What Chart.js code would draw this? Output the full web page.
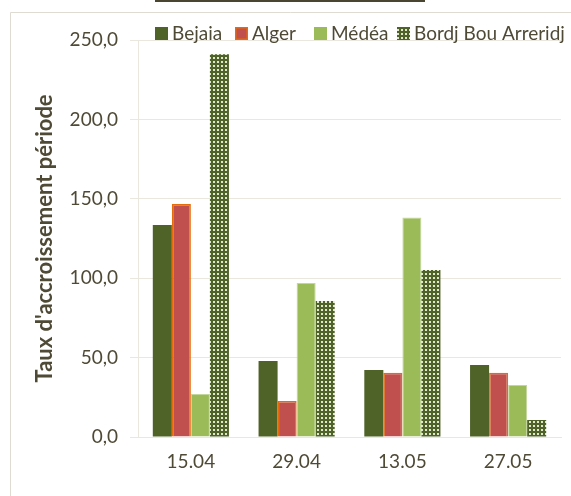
<!DOCTYPE html>
<html>
<head>
<meta charset="utf-8">
<script src="https://cdn.jsdelivr.net/npm/chart.js@4"></script>
<style>
  html, body { margin: 0; padding: 0; background: #fff; overflow: hidden; }
  #wrap { position: relative; width: 571px; height: 496px; }
</style>
</head>
<body>
<div id="wrap"><canvas id="myChart"></canvas></div>
<script>
// data
const dates = ['15.04', '29.04', '13.05', '27.05'];
const bejaia = [133.5, 47.9, 42.2, 45.3];
const alger = [146.7, 22.7, 40.4, 40.4];
const medea = [27.0, 97.0, 138.3, 32.7];
const bordj = [241.0, 85.6, 105.2, 10.7];
const yTicks = [0, 50, 100, 150, 200, 250];

const textColor = '#4f4a36';
const gridColor = '#e9e7de';
const legendX = [155, 235, 314, 397];

// dotted pattern for Bordj Bou Arreridj
function makePattern() {
    const c = document.createElement('canvas');
    c.width = 4;
    c.height = 4;
    const p = c.getContext('2d');
    p.fillStyle = '#4f6228';
    p.fillRect(0, 0, 4, 4);
    p.fillStyle = '#dfe8cc';
    p.fillRect(1, 1, 2, 2);
    return p.createPattern(c, 'repeat');
}
const ctx = document.getElementById('myChart');
const dots = makePattern();

// frame + custom legend
const decor = {
    id: 'decor',
    beforeDraw(chart) {
        const g = chart.ctx;
        g.save();
        g.fillStyle = '#4a4530';
        g.fillRect(155, 0, 270, 2);
        g.strokeStyle = '#dedbd0';
        g.lineWidth = 1;
        g.beginPath();
        g.moveTo(10.5, 496);
        g.lineTo(10.5, 12.5);
        g.lineTo(571, 12.5);
        g.stroke();
        g.restore();
    },
    afterDraw(chart) {
        const g = chart.ctx;
        g.save();
        g.font = '19px Lato';
        g.textBaseline = 'middle';
        const y = 33;
        chart.data.datasets.forEach((ds, i) => {
            const x = legendX[i];
            g.fillStyle = ds.backgroundColor;
            g.fillRect(x, y - 6, 13, 13);
            if (ds.label === 'Alger') {
                g.strokeStyle = ds.borderColor;
                g.lineWidth = 1.5;
                g.strokeRect(x + 0.75, y - 5.25, 11.5, 11.5);
            }
            g.fillStyle = textColor;
            g.fillText(ds.label, x + 17, y + 1);
        });
        g.restore();
    }
};

new Chart(ctx, {
    type: 'bar',
    data: {
        labels: dates,
        datasets: [
            { label: 'Bejaia', data: bejaia, backgroundColor: '#4f6228', borderWidth: 0 },
            { label: 'Alger', data: alger, backgroundColor: '#c0504d', borderColor: '#e46c0a', borderWidth: 1.5 },
            { label: 'Médéa', data: medea, backgroundColor: '#9bbb59', borderColor: '#c3d69b', borderWidth: 1 },
            { label: 'Bordj Bou Arreridj', data: bordj, backgroundColor: dots, borderWidth: 0 }
        ]
    },
    options: {
        responsive: true,
        maintainAspectRatio: false,
        animation: false,
        layout: { padding: { top: 40, right: 10, left: 0, bottom: 0 } },
        categoryPercentage: 0.72,
        barPercentage: 1,
        plugins: {
            legend: { display: false },
            tooltip: { enabled: false }
        },
        scales: {
            x: {
                grid: { display: false, drawTicks: false },
                border: { color: gridColor },
                ticks: { color: textColor, font: { family: 'Lato', size: 19 }, padding: 13 },
                afterFit: s => { s.height = 59; }
            },
            y: {
                min: 0,
                max: 250,
                afterBuildTicks: s => { s.ticks = yTicks.map(v => ({ value: v })); },
                grid: { color: gridColor, tickLength: 8, tickColor: gridColor },
                border: { display: true, color: gridColor },
                ticks: {
                    color: textColor,
                    font: { family: 'Lato', size: 19 },
                    padding: 12,
                    callback: v => v.toFixed(1).replace('.', ',')
                },
                title: {
                    display: true,
                    text: "Taux d'accroissement période",
                    color: textColor,
                    font: { family: 'Lato', size: 22, weight: 'bold' },
                    padding: { top: 32, bottom: 0 }
                },
                afterFit: s => { s.width = 138; }
            }
        }
    },
    plugins: [decor]
});
</script>
</body>
</html>
